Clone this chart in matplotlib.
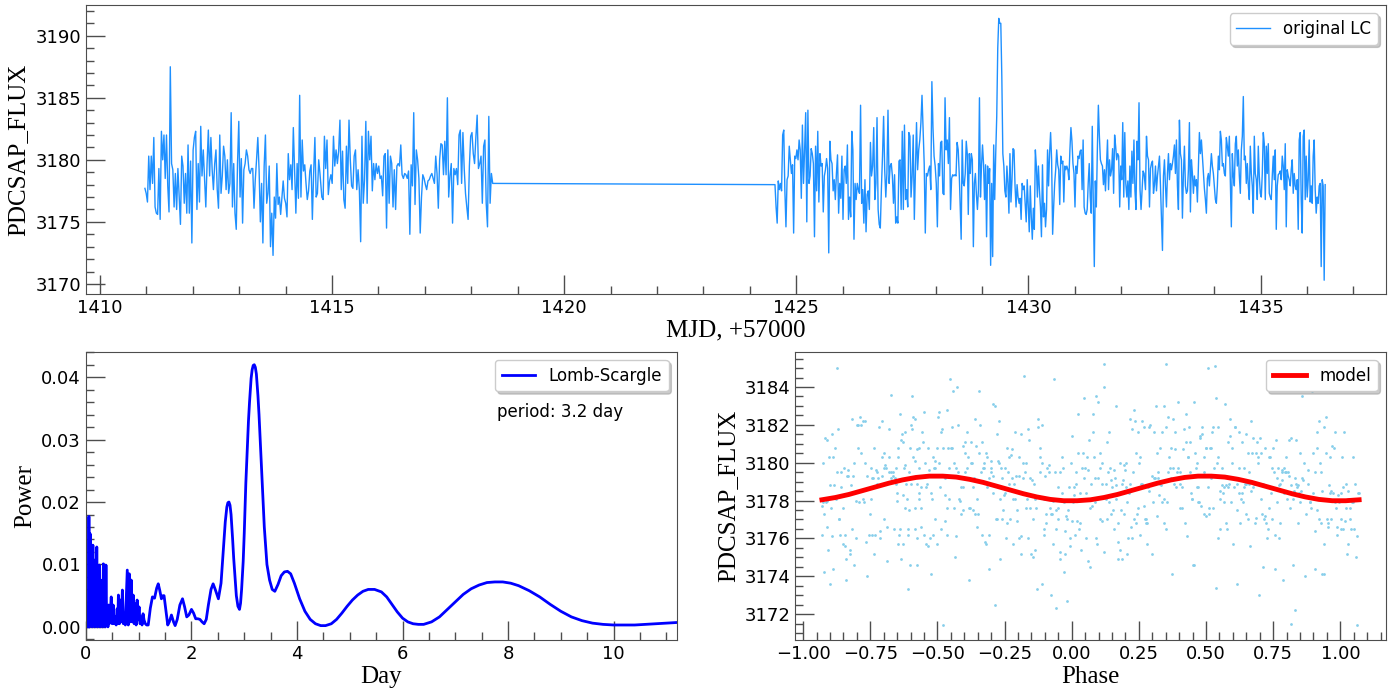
import numpy as np
import matplotlib.pyplot as plt
from matplotlib.ticker import MultipleLocator

# light curve (MJD - 57000), stored in chunks: (start, end, flux values)
chunk1_t = (1410.97, 1414.74)
chunk1_flux = [
    3177.7, 3177.3, 3176.6, 3180.3, 3177.6, 3180.3, 3178.1, 3181.8, 3176.2, 3175.7,
    3175.6, 3179.3, 3175.2, 3182.3, 3180.0, 3182.0, 3178.5, 3182.0, 3177.9, 3175.8,
    3187.5, 3179.7, 3179.2, 3176.2, 3178.9, 3176.0, 3179.3, 3177.0, 3174.8, 3180.3,
    3179.5, 3176.5, 3178.9, 3175.7, 3181.2, 3175.7, 3179.9, 3173.3, 3180.8, 3181.8,
    3182.3, 3176.0, 3179.7, 3176.6, 3182.7, 3178.7, 3180.8, 3178.4, 3176.2, 3179.7,
    3182.4, 3178.7, 3181.8, 3179.2, 3177.6, 3179.7, 3180.8, 3177.6, 3176.1, 3182.0,
    3177.3, 3178.7, 3181.1, 3180.3, 3177.6, 3180.0, 3177.3, 3178.1, 3183.8, 3176.2,
    3179.7, 3175.7, 3174.4, 3179.7, 3183.1, 3177.0, 3180.1, 3174.9, 3179.2, 3179.7,
    3180.8, 3180.3, 3179.2, 3178.9, 3179.3, 3179.3, 3176.1, 3178.4, 3180.0, 3181.8,
    3179.2, 3175.0, 3178.1, 3173.3, 3179.5, 3182.0, 3176.5, 3177.3, 3179.5, 3173.0,
    3175.7, 3172.3, 3177.0, 3175.3, 3179.7, 3176.4, 3177.0, 3175.6, 3176.9, 3178.3,
    3176.9, 3176.5, 3175.4, 3180.5, 3178.4, 3179.6, 3177.6, 3182.6, 3179.2, 3175.7,
    3179.7, 3176.9, 3185.2, 3177.0, 3181.6, 3179.1, 3179.6, 3178.1, 3176.8, 3177.5,
    3179.1, 3179.6, 3175.2, 3178.9, 3181.8, 3177.0, 3177.3, 3180.0, 3178.9,
]
chunk2_t = (1414.78, 1418.46)
chunk2_flux = [
    3177.0, 3176.8, 3181.9, 3179.3, 3181.6, 3177.2, 3178.3, 3178.8, 3178.1, 3181.9,
    3179.5, 3180.8, 3179.7, 3180.7, 3183.2, 3177.6, 3180.7, 3176.8, 3176.1, 3181.1,
    3178.1, 3183.2, 3180.0, 3177.9, 3177.7, 3180.3, 3180.8, 3177.6, 3179.2, 3177.6,
    3173.4, 3181.9, 3176.5, 3178.4, 3183.1, 3176.5, 3182.3, 3180.0, 3181.9, 3177.5,
    3179.7, 3178.4, 3179.7, 3178.9, 3179.5, 3178.5, 3178.7, 3177.1, 3180.3, 3180.5,
    3174.5, 3180.8, 3176.5, 3180.3, 3179.7, 3176.2, 3179.2, 3176.0, 3179.5, 3179.7,
    3179.5, 3181.2, 3178.8, 3178.5, 3178.9, 3178.8, 3178.5, 3179.1, 3174.0, 3179.6,
    3177.9, 3183.8, 3176.4, 3180.8, 3180.0, 3178.5, 3174.1, 3177.0, 3178.8, 3178.5,
    3178.0, 3177.6, 3178.3, 3178.4, 3178.7, 3178.9, 3178.5, 3178.1, 3180.3, 3178.9,
    3176.1, 3180.0, 3181.3, 3181.2, 3178.8, 3181.5, 3178.8, 3185.0, 3177.0, 3178.7,
    3179.7, 3174.9, 3179.3, 3178.8, 3179.3, 3178.0, 3182.0, 3182.4, 3178.1, 3182.2,
    3179.3, 3177.3, 3176.2, 3175.2, 3179.5, 3181.9, 3182.2, 3180.5, 3179.7, 3181.8,
    3183.6, 3179.3, 3179.7, 3180.3, 3176.5, 3181.1, 3181.6, 3176.5, 3174.6, 3183.5,
    3176.5, 3178.9, 3178.1,
]
chunk3_t = (1424.54, 1428.51)
chunk3_flux = [
    3178.0, 3176.2, 3174.9, 3178.3, 3177.6, 3178.1, 3177.5, 3182.0, 3182.4, 3177.6,
    3174.6, 3178.4, 3178.7, 3181.1, 3180.0, 3178.9, 3179.6, 3174.1, 3180.3, 3180.1,
    3180.8, 3180.0, 3181.6, 3180.8, 3176.9, 3182.8, 3178.1, 3180.8, 3183.8, 3175.0,
    3184.0, 3178.1, 3178.7, 3180.9, 3180.5, 3179.7, 3173.8, 3181.1, 3177.5, 3182.3,
    3176.6, 3180.5, 3179.5, 3179.7, 3175.8, 3178.7, 3179.2, 3180.1, 3179.3, 3172.5,
    3181.5, 3180.0, 3179.7, 3177.5, 3178.4, 3176.8, 3178.9, 3180.4, 3175.7, 3178.1,
    3176.9, 3180.3, 3175.2, 3179.2, 3179.5, 3178.1, 3181.2, 3175.2, 3177.0, 3175.4,
    3182.3, 3180.8, 3173.6, 3178.1, 3176.8, 3178.1, 3177.6, 3177.3, 3184.4, 3176.5,
    3177.6, 3174.9, 3178.4, 3174.2, 3177.2, 3177.5, 3176.0, 3181.4, 3178.7, 3179.5,
    3182.6, 3176.8, 3178.1, 3183.4, 3176.0, 3174.8, 3174.5, 3177.7, 3180.3, 3183.5,
    3179.2, 3177.0, 3178.9, 3184.0, 3178.1, 3179.5, 3179.7, 3178.7, 3176.5, 3178.8,
    3174.9, 3175.4, 3174.9, 3179.9, 3180.0, 3176.0, 3182.3, 3176.0, 3182.8, 3176.8,
    3177.6, 3176.2, 3182.2, 3181.9, 3177.0, 3178.7, 3182.0, 3175.2, 3179.2, 3183.0,
    3179.2, 3180.8, 3181.6, 3183.0, 3185.2, 3182.4, 3179.7, 3174.1, 3178.9, 3178.7,
    3179.2, 3179.5, 3177.6, 3186.3, 3182.6, 3180.3, 3179.5, 3178.1, 3174.6, 3179.7,
    3178.7, 3181.4, 3181.5, 3177.3, 3177.2, 3185.0, 3180.8, 3181.6, 3179.7, 3183.4,
    3176.0, 3178.5, 3178.8, 3178.7, 3178.8, 3178.7, 3181.4, 3180.8, 3178.7,
]
chunk4_t = (1428.55, 1432.49)
chunk4_flux = [
    3173.6, 3181.6, 3178.1, 3177.9, 3178.9, 3181.5, 3180.5, 3175.6, 3180.5, 3178.9,
    3180.5, 3180.0, 3173.0, 3178.1, 3178.9, 3177.2, 3176.0, 3177.6, 3185.0, 3177.0,
    3179.5, 3181.2, 3179.7, 3176.8, 3179.6, 3173.8, 3179.5, 3178.1, 3179.3, 3171.5,
    3178.1, 3172.2, 3181.2, 3176.8, 3180.5, 3183.5, 3189.0, 3191.4, 3191.0, 3191.0,
    3186.7, 3180.5, 3179.5, 3177.5, 3177.0, 3179.5, 3178.1, 3175.7, 3180.5, 3176.6,
    3178.4, 3180.9, 3180.8, 3177.9, 3176.2, 3178.0, 3177.0, 3176.5, 3176.9, 3175.2,
    3178.1, 3177.6, 3177.9, 3176.5, 3175.0, 3178.4, 3176.2, 3174.2, 3177.9, 3175.4,
    3173.6, 3176.1, 3174.4, 3180.8, 3179.5, 3177.0, 3179.5, 3177.6, 3176.2, 3173.8,
    3179.6, 3175.4, 3176.5, 3174.6, 3176.0, 3180.8, 3177.9, 3180.5, 3182.2, 3180.0,
    3174.0, 3176.2, 3178.1, 3179.2, 3180.8, 3179.6, 3179.2, 3176.4, 3180.3, 3179.7,
    3179.9, 3176.6, 3179.5, 3179.2, 3179.5, 3179.2, 3178.4, 3180.8, 3182.6, 3181.5,
    3179.7, 3178.9, 3176.2, 3179.5, 3178.9, 3180.3, 3180.1, 3180.7, 3180.8, 3177.6,
    3181.6, 3176.2, 3175.7, 3175.6, 3176.0, 3178.1, 3179.7, 3177.0, 3175.7, 3182.7,
    3176.5, 3171.4, 3178.3, 3176.2, 3180.8, 3184.4, 3181.9, 3180.0, 3179.7, 3179.5,
    3178.0, 3179.2, 3177.5, 3179.5, 3181.6, 3177.6, 3180.0, 3178.7, 3179.2, 3180.9,
    3177.3, 3182.0, 3181.1, 3180.0, 3180.5, 3180.3, 3176.2, 3179.5, 3178.4, 3183.0,
    3177.0, 3182.2, 3178.1, 3177.0, 3178.3, 3176.0, 3179.5, 3177.0, 3180.7, 3178.1,
    3181.6, 3177.5, 3176.0, 3181.5, 3180.0, 3184.6, 3177.6, 3176.0, 3177.6, 3179.1,
    3178.9,
]
chunk5_t = (1432.52, 1436.39)
chunk5_flux = [
    3177.6, 3181.9, 3180.3, 3180.0, 3176.2, 3179.3, 3179.7, 3179.9, 3177.3, 3178.0,
    3179.5, 3177.5, 3178.7, 3179.5, 3180.3, 3177.9, 3175.2, 3172.7, 3178.7, 3180.0,
    3177.9, 3176.2, 3178.9, 3180.5, 3178.4, 3179.7, 3179.2, 3179.7, 3180.3, 3181.2,
    3178.9, 3181.6, 3177.9, 3176.0, 3183.2, 3180.5, 3180.0, 3175.3, 3178.9, 3181.1,
    3177.9, 3177.3, 3177.5, 3179.2, 3183.0, 3175.8, 3180.0, 3178.9, 3177.3, 3178.7,
    3177.9, 3178.4, 3176.6, 3179.5, 3182.2, 3180.5, 3181.6, 3180.3, 3178.9, 3177.7,
    3176.8, 3175.7, 3178.5, 3178.9, 3177.9, 3179.2, 3180.5, 3179.5, 3178.9, 3177.9,
    3176.8, 3176.5, 3177.9, 3180.3, 3179.2, 3182.3, 3181.6, 3179.5, 3179.7, 3178.9,
    3178.7, 3181.8, 3181.1, 3180.3, 3181.9, 3178.4, 3174.6, 3180.5, 3178.7, 3177.9,
    3181.3, 3181.9, 3179.5, 3180.8, 3178.7, 3177.3, 3180.8, 3181.9, 3185.1, 3180.0,
    3180.3, 3178.1, 3179.7, 3177.9, 3176.8, 3181.1, 3178.9, 3177.9, 3175.7, 3181.9,
    3178.9, 3178.4, 3176.8, 3181.1, 3178.7, 3177.3, 3177.0, 3178.9, 3182.2, 3181.3,
    3176.8, 3181.1, 3178.9, 3181.3, 3177.3, 3177.0, 3176.8, 3178.7, 3180.3, 3178.4,
    3180.8, 3174.4, 3177.9, 3178.8, 3178.9, 3179.1, 3178.4, 3180.3, 3179.5, 3177.6,
    3181.3, 3174.6, 3179.2, 3178.7, 3178.4, 3177.9, 3179.2, 3180.0, 3177.3, 3178.9,
    3177.9, 3177.6, 3178.4, 3174.4, 3181.6, 3182.2, 3176.8, 3174.1, 3181.9, 3182.4,
    3176.8, 3180.3, 3177.0, 3178.4, 3181.6, 3176.6, 3177.9, 3176.5, 3180.3, 3181.6,
    3177.6, 3175.7, 3177.0, 3176.5, 3177.9, 3178.1, 3171.4, 3178.4, 3177.9, 3170.3,
    3178.0,
]

# Lomb-Scargle periodogram, power vs period (days)
ls_day = [
    0.044, 0.056, 0.068, 0.081, 0.093, 0.106, 0.118, 0.131, 0.143, 0.155,
    0.168, 0.180, 0.193, 0.205, 0.218, 0.230, 0.242, 0.255, 0.267, 0.280,
    0.292, 0.305, 0.317, 0.330, 0.342, 0.354, 0.367, 0.379, 0.392, 0.404,
    0.417, 0.429, 0.441, 0.460, 0.479, 0.497, 0.516, 0.535, 0.553, 0.572,
    0.591, 0.603, 0.615, 0.634, 0.653, 0.671, 0.690, 0.709, 0.727, 0.746,
    0.765, 0.783, 0.802, 0.821, 0.839, 0.858, 0.877, 0.895, 0.914, 0.933,
    0.951, 0.970, 0.989, 1.007, 1.026, 1.045, 1.063, 1.082, 1.101, 1.126,
    1.150, 1.18, 1.22, 1.26, 1.30, 1.34, 1.37, 1.40, 1.43, 1.46,
    1.48, 1.51, 1.55, 1.58, 1.62, 1.66, 1.69, 1.73, 1.78, 1.83,
    1.87, 1.91, 1.95, 2.00, 2.04, 2.08, 2.12, 2.16, 2.20, 2.24,
    2.28, 2.32, 2.37, 2.41, 2.45, 2.51, 2.56, 2.61, 2.64, 2.67,
    2.69, 2.71, 2.73, 2.75, 2.78, 2.80, 2.85, 2.88, 2.91, 2.93,
    2.95, 2.98, 3.00, 3.03, 3.05, 3.08, 3.10, 3.13, 3.15, 3.17,
    3.19, 3.21, 3.23, 3.26, 3.28, 3.31, 3.33, 3.36, 3.38, 3.43,
    3.48, 3.53, 3.58, 3.64, 3.70, 3.76, 3.82, 3.88, 3.95, 4.05,
    4.15, 4.25, 4.35, 4.45, 4.54, 4.65, 4.75, 4.85, 4.95, 5.05,
    5.15, 5.25, 5.35, 5.47, 5.60, 5.70, 5.80, 5.90, 6.00, 6.10,
    6.20, 6.30, 6.40, 6.55, 6.70, 6.85, 7.00, 7.15, 7.30, 7.45,
    7.60, 7.75, 7.90, 8.05, 8.20, 8.40, 8.60, 8.80, 9.00, 9.20,
    9.40, 9.60, 9.80, 10.00, 10.40, 10.80, 11.20,
]
ls_power = [
    0.0000, 0.0177, 0.0000, 0.0149, 0.0021, 0.0101, 0.0000, 0.0131, 0.0011, 0.0107,
    0.0000, 0.0075, 0.0005, 0.0128, 0.0000, 0.0096, 0.0011, 0.0099, 0.0000, 0.0075,
    0.0005, 0.0053, 0.0000, 0.0101, 0.0005, 0.0032, 0.0000, 0.0099, 0.0008, 0.0032,
    0.0000, 0.0035, 0.0005, 0.0021, 0.0048, 0.0005, 0.0035, 0.0005, 0.0016, 0.0003,
    0.0029, 0.0005, 0.0051, 0.0005, 0.0043, 0.0008, 0.0059, 0.0005, 0.0021, 0.0003,
    0.0048, 0.0091, 0.0003, 0.0085, 0.0008, 0.0075, 0.0008, 0.0051, 0.0005, 0.0037,
    0.0003, 0.0043, 0.0011, 0.0032, 0.0005, 0.0016, 0.0003, 0.0021, 0.0011, 0.0005,
    0.0003, 0.0003, 0.0030, 0.0048, 0.0046, 0.0062, 0.0069, 0.0058, 0.0045, 0.0050,
    0.0050, 0.0030, 0.0003, 0.0008, 0.0019, 0.0008, 0.0002, 0.0012, 0.0035, 0.0045,
    0.0032, 0.0016, 0.0019, 0.0028, 0.0022, 0.0013, 0.0013, 0.0012, 0.0008, 0.0005,
    0.0012, 0.0035, 0.0060, 0.0069, 0.0060, 0.0045, 0.0070, 0.0130, 0.0168, 0.0192,
    0.0199, 0.0200, 0.0195, 0.0180, 0.0140, 0.0110, 0.0050, 0.0033, 0.0028, 0.0038,
    0.0060, 0.0105, 0.0150, 0.0230, 0.0270, 0.0330, 0.0360, 0.0398, 0.0412, 0.0419,
    0.0420, 0.0416, 0.0405, 0.0370, 0.0340, 0.0285, 0.0250, 0.0190, 0.0160, 0.0100,
    0.0075, 0.0060, 0.0057, 0.0068, 0.0082, 0.0088, 0.0089, 0.0085, 0.0070, 0.0045,
    0.0025, 0.0012, 0.0005, 0.0002, 0.0002, 0.0005, 0.0012, 0.0022, 0.0033, 0.0043,
    0.0051, 0.0057, 0.0060, 0.0060, 0.0056, 0.0048, 0.0036, 0.0024, 0.0014, 0.0008,
    0.0005, 0.0004, 0.0004, 0.0008, 0.0016, 0.0028, 0.0040, 0.0052, 0.0061, 0.0067,
    0.0071, 0.0072, 0.0072, 0.0070, 0.0066, 0.0058, 0.0048, 0.0036, 0.0025, 0.0016,
    0.0010, 0.0006, 0.0004, 0.0003, 0.0003, 0.0005, 0.0007,
]
period_label = 3.2

# folding and fitted model
fold_period = 3.17
phase_start = -0.93
model_phase = np.round(np.arange(-0.93, 1.0701, 0.05), 2)
model_flux = [
    3178.04, 3178.16, 3178.32, 3178.52, 3178.72, 3178.92, 3179.09, 3179.22, 3179.29, 3179.29,
    3179.24, 3179.12, 3178.96, 3178.76, 3178.56, 3178.36, 3178.19, 3178.06, 3177.99, 3177.99,
    3178.04, 3178.16, 3178.32, 3178.52, 3178.72, 3178.92, 3179.09, 3179.22, 3179.29, 3179.29,
    3179.24, 3179.12, 3178.96, 3178.76, 3178.56, 3178.36, 3178.19, 3178.06, 3177.99, 3177.99,
    3178.04,
]

chunks = [(chunk1_t, chunk1_flux), (chunk2_t, chunk2_flux), (chunk3_t, chunk3_flux),
          (chunk4_t, chunk4_flux), (chunk5_t, chunk5_flux)]
time = np.concatenate([np.linspace(t[0], t[1], len(f)) for t, f in chunks])
flux = np.concatenate([f for t, f in chunks])
phase = ((time - chunk1_t[0]) / fold_period) % 2 + phase_start

serif = 'Liberation Serif'


def style(ax, xmaj, xmin, ymaj, ymin):
    ax.xaxis.set_major_locator(MultipleLocator(xmaj))
    ax.xaxis.set_minor_locator(MultipleLocator(xmin))
    ax.yaxis.set_major_locator(MultipleLocator(ymaj))
    ax.yaxis.set_minor_locator(MultipleLocator(ymin))
    ax.tick_params(which='both', direction='in', color='0.3', labelsize=13)
    ax.tick_params(which='major', length=14, width=1)
    ax.tick_params(which='minor', length=6, width=1)
    for s in ax.spines.values():
        s.set_color('0.3')


def legend(ax):
    return ax.legend(loc='upper right', fontsize=12, fancybox=True, framealpha=1,
                     edgecolor='0.8', shadow={'color': '0.6'})


fig = plt.figure(figsize=(14, 6.88), dpi=100)
ax1 = fig.add_axes([0.0614, 0.5727, 0.9286, 0.4201])
ax2 = fig.add_axes([0.0614, 0.0698, 0.4221, 0.4191])
ax3 = fig.add_axes([0.5679, 0.0698, 0.4221, 0.4191])

# top: light curve
ax1.plot(time, flux, color='dodgerblue', lw=1, label='original LC')
ax1.set_xlim(1409.7, 1437.7)
ax1.set_ylim(3169.19, 3192.48)
style(ax1, 5, 1, 5, 1)
ax1.set_xlabel('MJD, +57000', family=serif, fontsize=18, labelpad=2)
ax1.set_ylabel('PDCSAP_FLUX', family=serif, fontsize=18)
legend(ax1)

# bottom left: periodogram
ax2.plot(ls_day, ls_power, color='blue', lw=2, label='Lomb-Scargle')
ax2.set_xlim(0, 11.2)
ax2.set_ylim(-0.0021, 0.0441)
style(ax2, 2, 0.5, 0.01, 0.002)
ax2.set_xlabel('Day', family=serif, fontsize=18, labelpad=2)
ax2.set_ylabel('Power', family=serif, fontsize=18)
legend(ax2)
ax2.text(0.695, 0.79, f'period: {period_label} day', transform=ax2.transAxes,
         fontsize=12, va='center')

# bottom right: folded light curve + model
ax3.scatter(phase, flux, s=4, color='skyblue', linewidths=0)
ax3.plot(model_phase, model_flux, color='red', lw=3.5, label='model')
ax3.set_xlim(-1.03, 1.17)
ax3.set_ylim(3170.63, 3185.87)
style(ax3, 0.25, 0.05, 2, 0.5)
ax3.set_xlabel('Phase', family=serif, fontsize=18, labelpad=2)
ax3.set_ylabel('PDCSAP_FLUX', family=serif, fontsize=18)
legend(ax3)

fig.savefig('out.png', dpi=100)
